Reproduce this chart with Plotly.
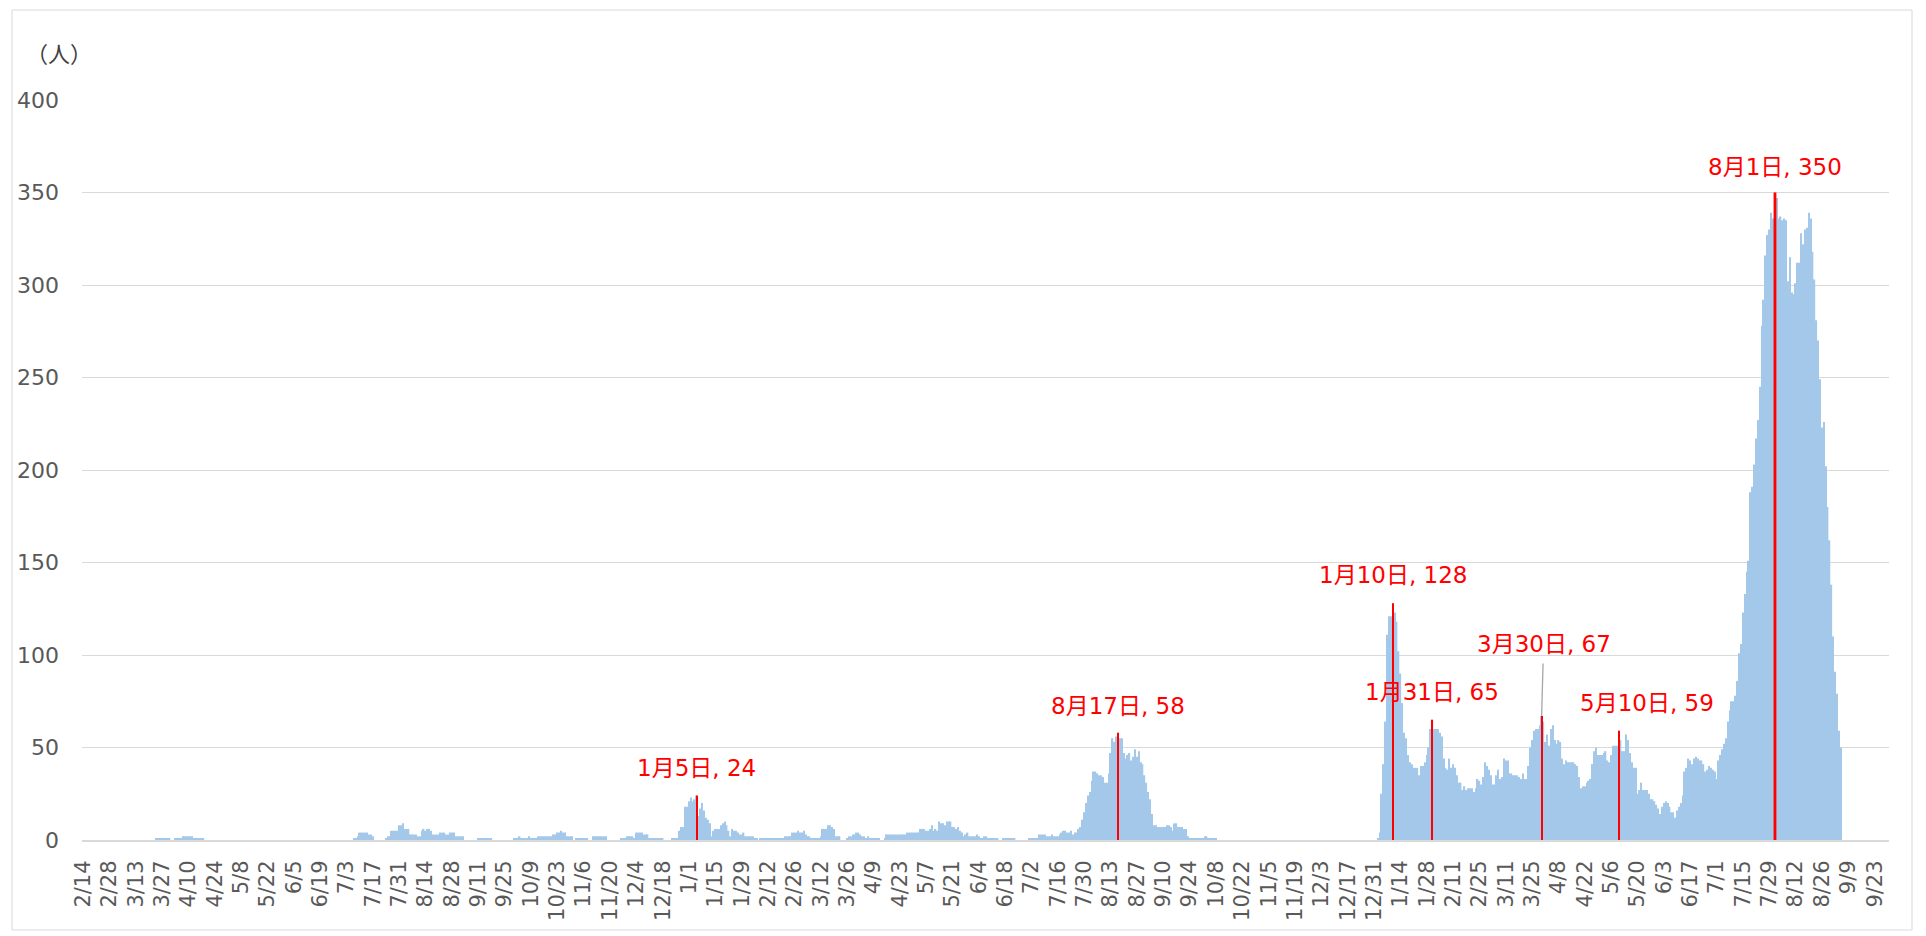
import pandas as pd
import plotly.graph_objects as go

START_DATE = "2020-02-14"

# daily counts, 100 days per block starting 2020-02-14
daily_part1 = [
    0, 0, 0, 0, 0, 0, 0, 0, 0, 0,
    0, 0, 0, 0, 0, 0, 0, 0, 0, 0,
    0, 0, 0, 0, 0, 0, 0, 0, 0, 0,
    0, 0, 0, 0, 0, 0, 0, 0, 0, 1,
    1, 1, 1, 1, 1, 1, 1, 0, 0, 1,
    1, 1, 1, 2, 2, 2, 2, 2, 2, 1,
    1, 1, 1, 1, 1, 0, 0, 0, 0, 0,
    0, 0, 0, 0, 0, 0, 0, 0, 0, 0,
    0, 0, 0, 0, 0, 0, 0, 0, 0, 0,
    0, 0, 0, 0, 0, 0, 0, 0, 0, 0,
]
daily_part2 = [
    0, 0, 0, 0, 0, 0, 0, 0, 0, 0,
    0, 0, 0, 0, 0, 0, 0, 0, 0, 0,
    0, 0, 0, 0, 0, 0, 0, 0, 0, 0,
    0, 0, 0, 0, 0, 0, 0, 0, 0, 0,
    0, 0, 0, 0, 1, 1, 2, 4, 4, 4,
    4, 4, 3, 3, 2, 0, 0, 0, 0, 0,
    0, 1, 2, 2, 5, 5, 5, 5, 8, 8,
    9, 6, 6, 6, 3, 3, 3, 3, 2, 2,
    5, 6, 5, 6, 6, 5, 3, 3, 3, 3,
    4, 4, 4, 3, 3, 4, 4, 4, 2, 2,
]
daily_part3 = [
    2, 2, 2, 0, 0, 0, 0, 0, 0, 0,
    1, 1, 1, 1, 1, 1, 1, 1, 0, 0,
    0, 0, 0, 0, 0, 0, 0, 0, 0, 1,
    1, 1, 2, 1, 1, 1, 1, 2, 1, 1,
    1, 1, 2, 2, 2, 2, 2, 2, 2, 2,
    3, 3, 4, 4, 5, 4, 4, 2, 2, 2,
    2, 0, 1, 1, 1, 1, 1, 1, 1, 0,
    0, 2, 2, 2, 2, 2, 2, 2, 2, 0,
    0, 0, 0, 0, 0, 0, 1, 1, 1, 2,
    2, 2, 2, 1, 4, 4, 4, 4, 3, 3,
]
daily_part4 = [
    3, 1, 1, 1, 1, 1, 1, 1, 1, 0,
    0, 0, 0, 1, 1, 1, 1, 5, 7, 7,
    18, 18, 21, 23, 21, 22, 24, 13, 17, 20,
    16, 12, 11, 9, 2, 5, 6, 6, 6, 8,
    9, 10, 8, 5, 2, 6, 5, 5, 4, 3,
    3, 4, 2, 2, 2, 2, 2, 1, 1, 0,
    1, 1, 1, 1, 1, 1, 1, 1, 1, 1,
    1, 1, 1, 2, 2, 2, 2, 4, 4, 4,
    5, 4, 4, 5, 3, 2, 2, 1, 1, 1,
    1, 1, 2, 6, 6, 6, 8, 8, 7, 6,
]
daily_part5 = [
    2, 2, 2, 0, 0, 0, 1, 2, 2, 3,
    3, 4, 4, 3, 2, 2, 1, 2, 1, 1,
    1, 1, 1, 1, 0, 0, 1, 3, 3, 3,
    3, 3, 3, 3, 3, 3, 3, 3, 4, 4,
    4, 4, 4, 4, 4, 6, 6, 6, 5, 5,
    6, 8, 5, 6, 5, 10, 9, 9, 8, 10,
    10, 10, 7, 7, 6, 7, 5, 4, 2, 3,
    4, 2, 2, 2, 2, 3, 2, 1, 1, 2,
    2, 1, 1, 1, 1, 1, 1, 0, 0, 1,
    1, 1, 1, 1, 1, 1, 0, 0, 0, 0,
]
daily_part6 = [
    0, 0, 0, 1, 1, 1, 1, 1, 3, 3,
    3, 3, 2, 2, 2, 3, 2, 2, 2, 3,
    4, 5, 5, 4, 4, 5, 3, 4, 4, 6,
    7, 11, 15, 20, 24, 26, 32, 37, 37, 36,
    35, 35, 34, 31, 31, 36, 47, 55, 53, 56,
    58, 55, 55, 47, 44, 46, 47, 43, 45, 49,
    45, 48, 42, 41, 35, 31, 26, 22, 14, 8,
    8, 7, 7, 7, 7, 7, 8, 8, 7, 5,
    9, 9, 7, 7, 7, 6, 6, 2, 1, 1,
    1, 1, 1, 1, 1, 1, 2, 2, 1, 1,
]
daily_part7 = [
    1, 1, 1, 0, 0, 0, 0, 0, 0, 0,
    0, 0, 0, 0, 0, 0, 0, 0, 0, 0,
    0, 0, 0, 0, 0, 0, 0, 0, 0, 0,
    0, 0, 0, 0, 0, 0, 0, 0, 0, 0,
    0, 0, 0, 0, 0, 0, 0, 0, 0, 0,
    0, 0, 0, 0, 0, 0, 0, 0, 0, 0,
    0, 0, 0, 0, 0, 0, 0, 0, 0, 0,
    0, 0, 0, 0, 0, 0, 0, 0, 0, 0,
    0, 0, 0, 0, 0, 0, 0, 0, 1, 4,
    25, 41, 64, 111, 121, 121, 128, 123, 118, 102,
]
daily_part8 = [
    90, 74, 58, 55, 46, 42, 41, 39, 39, 39,
    35, 40, 40, 42, 46, 50, 60, 65, 60, 60,
    60, 58, 56, 44, 39, 38, 44, 39, 41, 39,
    35, 31, 31, 27, 29, 27, 28, 28, 28, 26,
    28, 33, 32, 30, 34, 42, 40, 38, 35, 30,
    30, 35, 38, 33, 34, 44, 43, 43, 36, 36,
    35, 35, 35, 34, 33, 36, 33, 33, 40, 50,
    54, 59, 60, 60, 62, 67, 64, 53, 57, 51,
    60, 62, 54, 52, 54, 53, 44, 41, 43, 42,
    42, 42, 42, 41, 40, 34, 28, 29, 29, 31,
]
daily_part9 = [
    32, 33, 41, 48, 50, 46, 46, 46, 47, 48,
    43, 42, 46, 51, 51, 51, 59, 54, 48, 48,
    57, 54, 47, 42, 39, 39, 25, 27, 31, 27,
    27, 27, 25, 22, 22, 21, 19, 17, 14, 18,
    20, 21, 20, 18, 15, 15, 12, 16, 18, 20,
    24, 37, 39, 44, 43, 41, 44, 45, 44, 43,
    43, 41, 37, 38, 40, 39, 38, 37, 33, 43,
    46, 49, 52, 55, 64, 70, 75, 75, 78, 86,
    101, 106, 123, 133, 145, 151, 188, 191, 203, 217,
    227, 245, 278, 292, 316, 327, 330, 339, 336, 350,
]
daily_part10 = [
    347, 336, 337, 335, 336, 335, 302, 315, 296, 295,
    301, 312, 312, 328, 322, 330, 331, 339, 336, 318,
    303, 281, 270, 249, 223, 226, 202, 180, 162, 138,
    110, 91, 79, 59, 50,
]

peak_dates = ["2021-01-05", "2021-08-17", "2022-01-10", "2022-01-31",
              "2022-03-30", "2022-05-10", "2022-08-01"]

values = (daily_part1 + daily_part2 + daily_part3 + daily_part4 + daily_part5
          + daily_part6 + daily_part7 + daily_part8 + daily_part9 + daily_part10)
dates = pd.date_range(START_DATE, periods=len(values), freq="D")
series = pd.Series(values, index=dates)

peak_ts = pd.to_datetime(peak_dates)
peak_values = [int(series[t]) for t in peak_ts]
peak_labels = [f"{t.month}月{t.day}日, {v}" for t, v in zip(peak_ts, peak_values)]

DAY_MS = 86400000
FONT = "DejaVu Sans, Noto Sans CJK JP, sans-serif"

fig = go.Figure()
fig.add_trace(go.Bar(
    x=dates, y=values,
    marker=dict(color="#A4C8EA", line=dict(width=0)),
    hoverinfo="skip",
))
red_widths = [0.6 * DAY_MS] * (len(peak_ts) - 1) + [1.5 * DAY_MS]
fig.add_trace(go.Bar(
    x=peak_ts, y=peak_values,
    width=red_widths,
    marker=dict(color="#FF0000", line=dict(width=0)),
    hoverinfo="skip",
))

# label offsets (pixels) relative to each peak bar top
shifts = [(0, 28), (0, 27), (0, 28), (0, 28), (None, None), (28, 28), (0, 26)]
annotations = []
for t, v, lab, (dx, dy) in zip(peak_ts, peak_values, peak_labels, shifts):
    if dx is None:
        annotations.append(dict(
            x=t, y=v, xref="x", yref="y", text=lab, showarrow=True,
            ax=2, ay=-72, arrowhead=0, arrowwidth=1.3, arrowcolor="#A6A6A6",
            borderpad=6, font=dict(family=FONT, size=23, color="#FF0000"),
        ))
    else:
        annotations.append(dict(
            x=t, y=v, xref="x", yref="y", text=lab, showarrow=False,
            xshift=dx, yshift=dy, yanchor="middle", xanchor="center",
            font=dict(family=FONT, size=23, color="#FF0000"),
        ))
annotations.append(dict(
    x=-0.0128, y=1.0649, xref="paper", yref="paper", text="（人）",
    showarrow=False, xanchor="center", yanchor="middle",
    font=dict(family="Noto Sans CJK JP, sans-serif", size=22, color="#404040"),
))

fig.update_layout(
    width=1926, height=936,
    margin=dict(l=82, r=37, t=100, b=96),
    paper_bgcolor="white", plot_bgcolor="white",
    barmode="overlay", bargap=0.25,
    showlegend=False,
    annotations=annotations,
    font=dict(family=FONT),
    shapes=[dict(type="rect", xref="paper", yref="paper",
                 x0=-0.03874, x1=1.01273, y0=-0.1216, y1=1.1216,
                 line=dict(color="#D9D9D9", width=1), layer="below")],
)
fig.update_xaxes(
    type="date",
    range=["2020-02-13 11:00", "2022-09-30 14:00"],
    tick0=START_DATE, dtick=14 * DAY_MS, tickformat="%-m/%-d",
    tickangle=-90, tickfont=dict(family=FONT, size=21, color="#595959"),
    showgrid=False, showline=True, linecolor="#D9D9D9", linewidth=2,
    ticks="", ticklabelstandoff=10,
)
fig.update_yaxes(
    range=[0, 400], dtick=50, tick0=0,
    tickfont=dict(family=FONT, size=22, color="#595959"),
    showgrid=True, gridcolor="#D9D9D9", gridwidth=1,
    zeroline=False, showline=False, ticks="", ticklabelstandoff=22,
)

fig.write_html("out.html", config={"displayModeBar": False},
               post_script="document.body.style.margin='0';")
